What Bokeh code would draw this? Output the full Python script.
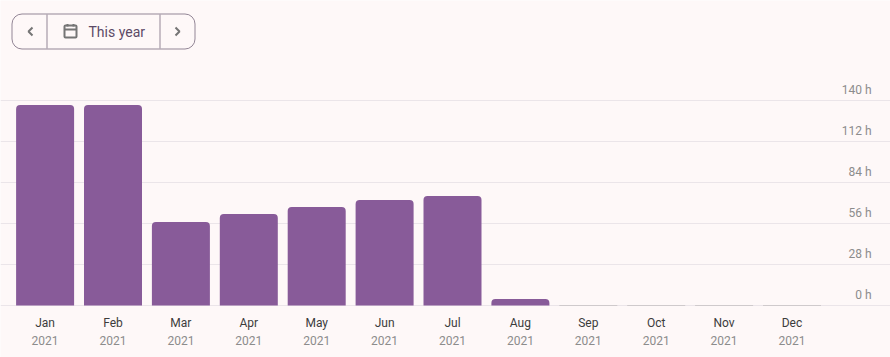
from bokeh.plotting import figure
from bokeh.models import Range1d, BoxAnnotation, Label
from bokeh.core.properties import value
from bokeh.embed import file_html
from bokeh.resources import INLINE

months = ["Jan","Feb","Mar","Apr","May","Jun","Jul","Aug","Sep","Oct","Nov","Dec"]
years = ["2021"]*12
hours = [137,137,57,62.5,67.3,72,74.8,4.4,0,0,0,0]
y_ticks = [0,28,56,84,112,140]
y_labels = ["0 h","28 h","56 h","84 h","112 h","140 h"]

W, H = 890, 357
BG = "#fef8f8"
x0, dx = 44.6, 67.9
base, ppu = 305, 205/140
xr = Range1d(-x0/dx, (W-x0)/dx)
yr = Range1d((base-H)/ppu, base/ppu)
def X(px): return (px-x0)/dx
def Y(py): return (base-py)/ppu

p = figure(width=W, height=H, x_range=xr, y_range=yr, output_backend="svg", toolbar_location=None,
           min_border=0, min_border_left=0, min_border_right=0, min_border_top=0, min_border_bottom=0,
           background_fill_color=BG, border_fill_color=BG, outline_line_color=None)
p.axis.visible = False
p.grid.visible = False

xs = list(range(12))
GRID = "#ebe5e9"
bw = 58/dx
p.segment(x0=[xr.start]*6, x1=[xr.end]*6, y0=y_ticks, y1=y_ticks, line_color=GRID, line_width=1)
pos = [i for i,v in enumerate(hours) if v > 0]
zero = [i for i,v in enumerate(hours) if v == 0]
p.vbar(x=pos, top=[hours[i] for i in pos], bottom=0, width=bw, fill_color="#885b99", line_color=None, border_radius=(4,4,0,0))
p.segment(x0=[i-bw/2 for i in zero], x1=[i+bw/2 for i in zero], y0=[0]*len(zero), y1=[0]*len(zero), line_color="#cfcacc", line_width=1)

FONT = value("Roboto")
p.text(x=xs, y=[0]*12, text=months, text_font=FONT, text_font_size="12px", text_color="#3c3c3c", text_align="center", text_baseline="middle", y_offset=17)
p.text(x=xs, y=[0]*12, text=years, text_font=FONT, text_font_size="12px", text_color="#8c8c8c", text_align="center", text_baseline="middle", y_offset=35)
p.text(x=[X(871)]*6, y=y_ticks, text=y_labels, text_font=FONT, text_font_size="12px", text_color="#8c8c8c", text_align="right", text_baseline="middle", y_offset=-10.5)

OUT = "#938696"
def sy(py): return H-py
p.add_layout(BoxAnnotation(left=11.5, right=194.5, top=sy(13.5), bottom=sy(48.5), left_units="screen", right_units="screen", top_units="screen", bottom_units="screen",
                           fill_alpha=0, line_color=OUT, line_alpha=1, line_width=1, border_radius=10))
p.add_layout(BoxAnnotation(left=64, right=76, top=sy(25), bottom=sy(37), left_units="screen", right_units="screen", top_units="screen", bottom_units="screen",
                           fill_alpha=0, line_color="#757575", line_alpha=1, line_width=2, border_radius=1))
p.add_layout(Label(x=88, y=sy(31), x_units="screen", y_units="screen", text="This year", text_font="Roboto", text_font_size="14px", text_color="#5c4a66", text_baseline="middle"))
for args in [([X(46.5),X(46.5)],[Y(14),Y(48)],OUT,1),([X(159.5),X(159.5)],[Y(14),Y(48)],OUT,1),
             ([X(32),X(28),X(32)],[Y(27),Y(31),Y(35)],"#757575",2),
             ([X(175),X(179),X(175)],[Y(27),Y(31),Y(35)],"#757575",2),
             ([X(64),X(76)],[Y(29),Y(29)],"#757575",2),
             ([X(67),X(67)],[Y(23.5),Y(26)],"#757575",2),
             ([X(73),X(73)],[Y(23.5),Y(26)],"#757575",2)]:
    p.line(args[0], args[1], line_color=args[2], line_width=args[3])

open("out.html", "w").write(file_html(p, INLINE))
